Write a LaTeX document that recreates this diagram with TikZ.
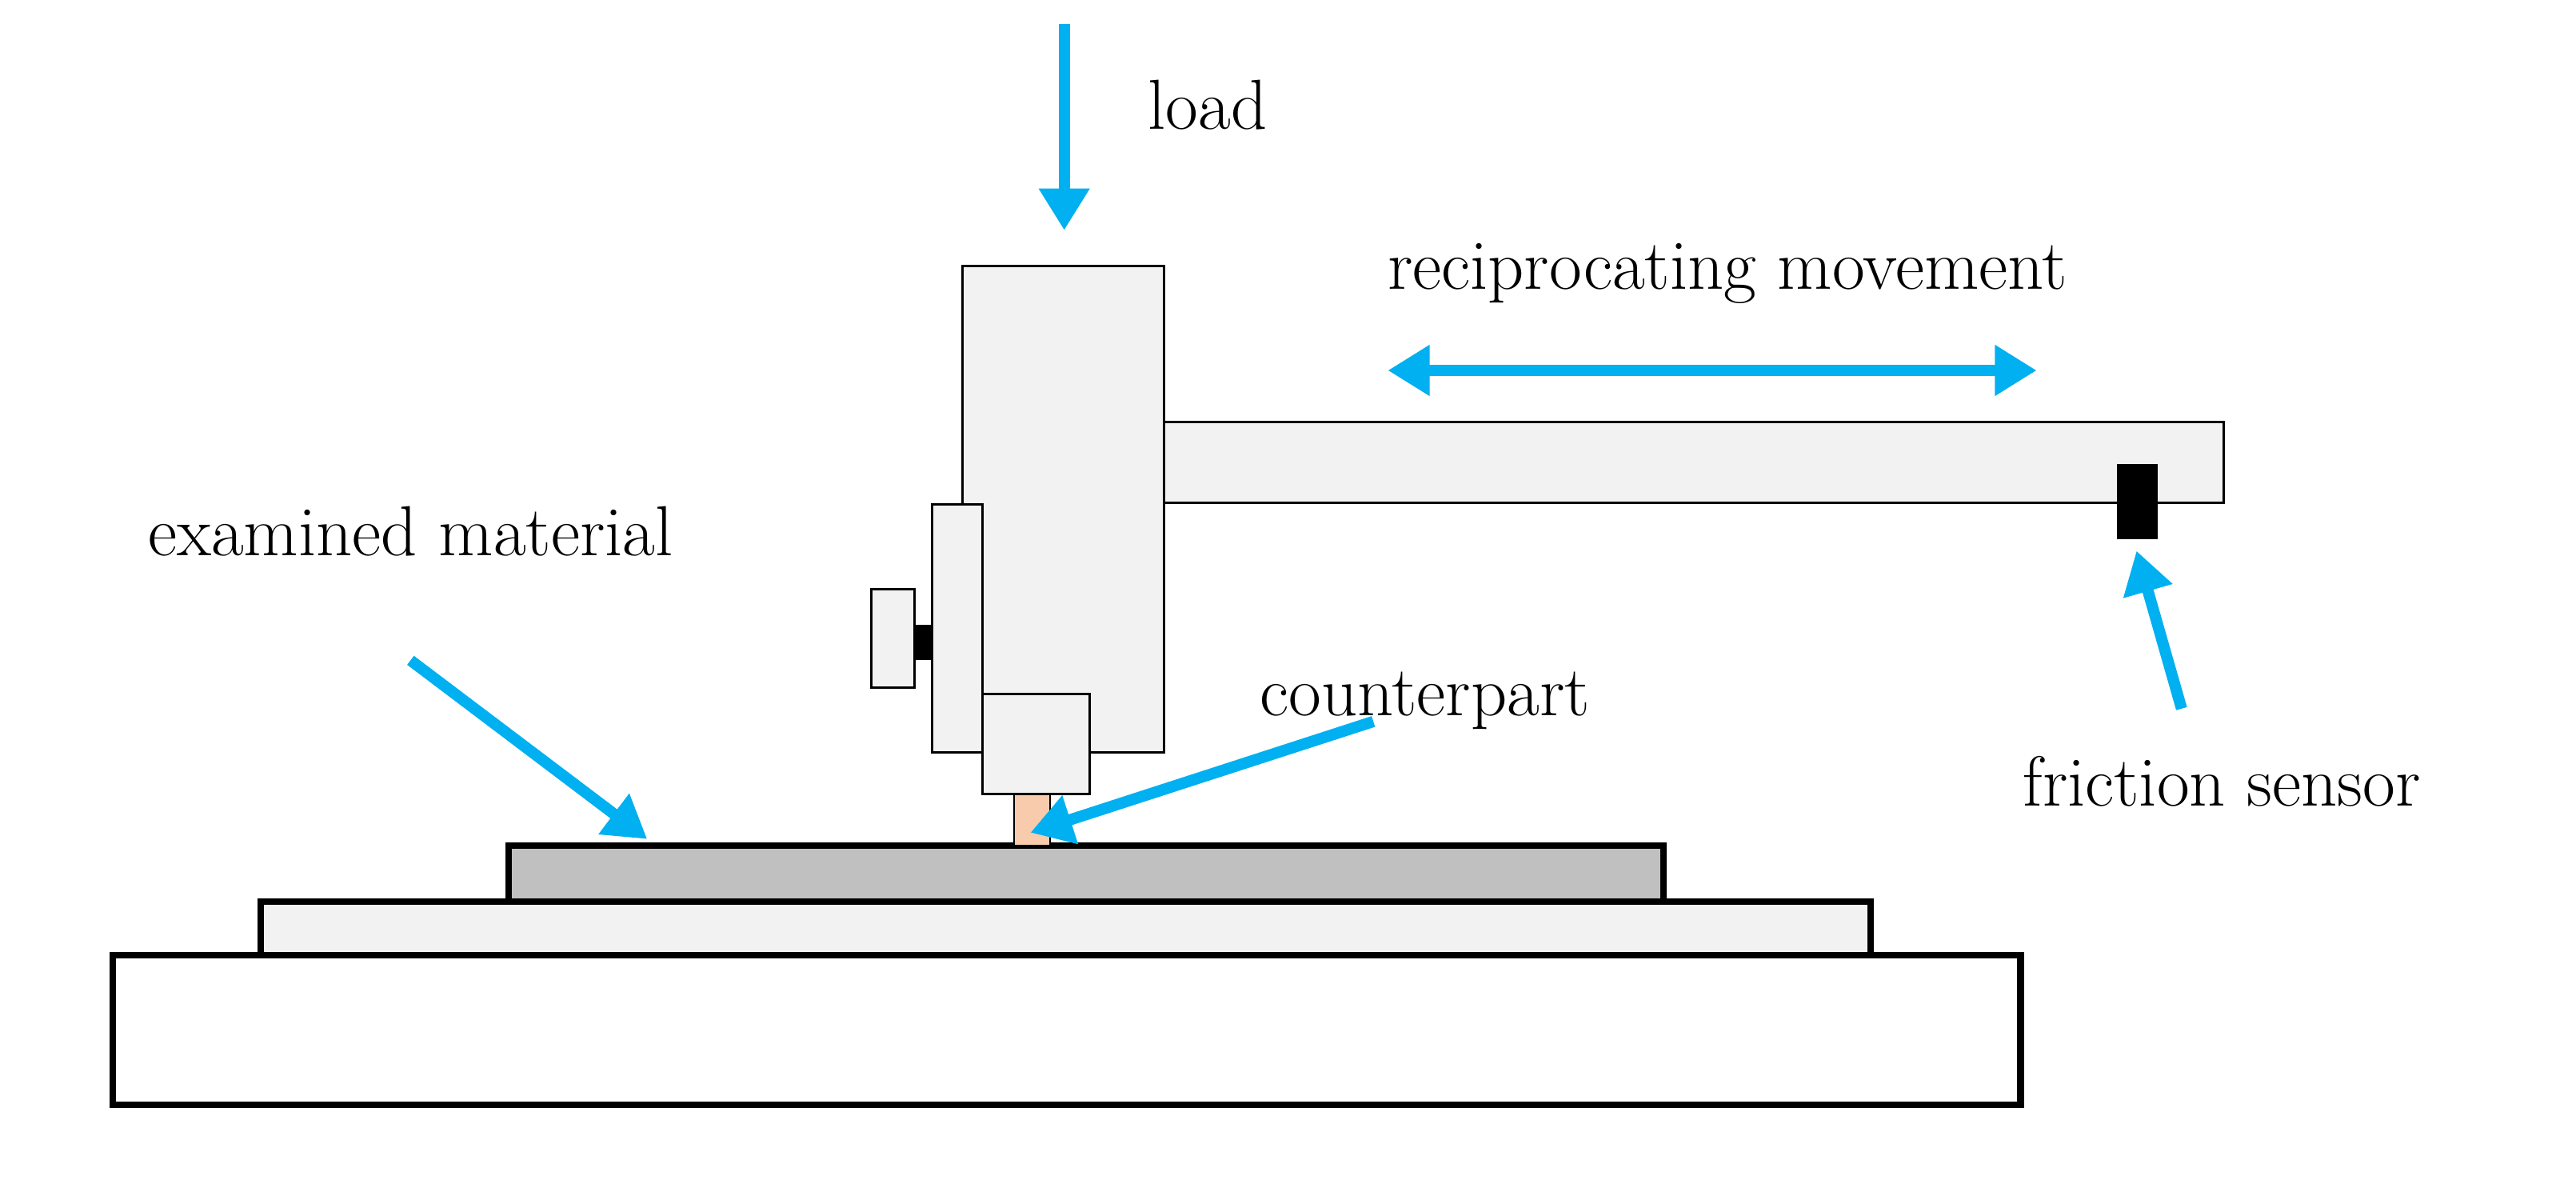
\documentclass[tikz,border=0pt]{standalone}
\usetikzlibrary{arrows.meta}
\definecolor{cy}{HTML}{00B0F0}
\definecolor{lg}{HTML}{F2F2F2}
\definecolor{mg}{HTML}{C0C0C0}
\definecolor{pe}{HTML}{F8CBAD}
\begin{document}
\begin{tikzpicture}[x=1pt,y=-1pt,
 thickbox/.style={draw=black,line width=4pt},
 thinbox/.style={draw=black,line width=1.5pt,fill=lg},
 arr/.style={draw=cy,line width=7pt,-{Triangle[length=26pt,width=30pt]}},
 darr/.style={draw=cy,line width=7pt,{Triangle[length=26pt,width=30pt]}-{Triangle[length=26pt,width=30pt]}},
 lab/.style={font=\fontsize{44}{52}\selectfont,inner sep=0pt}]
\useasboundingbox (0,0) rectangle (1600,735);
\draw[thickbox,fill=white] (70,593) rectangle (1255,686);
\draw[thickbox,fill=lg] (162,560) rectangle (1162,593);
\draw[thickbox,fill=mg] (316,525) rectangle (1033,560);
\draw[draw=black,line width=1pt,fill=pe] (630,493) rectangle (652,525);
\draw[thinbox] (598,165) rectangle (723,467);
\draw[thinbox] (723,262) rectangle (1381,312);
\fill[black] (1315,288) rectangle (1340,335);
\draw[thinbox] (579,313) rectangle (610,467);
\draw[thinbox] (541,366) rectangle (568,427);
\fill[black] (568,388) rectangle (579,410);
\draw[thinbox] (610,431) rectangle (677,493);
\coordinate (l1) at (661,15); \coordinate (l2) at (661,143);
\draw[arr] (l1) -- (l2);
\node[lab,anchor=west] (load) at (713,65) {load};
\node[lab] (rec) at (1073,170) {reciprocating movement};
\coordinate (r1) at (862,230); \coordinate (r2) at (1265,230);
\draw[darr] (r1) -- (r2);
\node[lab] (em) at (255,330) {examined material};
\coordinate (e1) at (255,410); \coordinate (e2) at (402,521);
\draw[arr] (e1) -- (e2);
\node[lab] (cp) at (885,435) {counterpart};
\coordinate (c1) at (853,448); \coordinate (c2) at (640,517);
\draw[arr] (c1) -- (c2);
\node[lab] (fs) at (1380,485) {friction sensor};
\coordinate (f1) at (1355,440); \coordinate (f2) at (1327,342);
\draw[arr] (f1) -- (f2);
\end{tikzpicture}
\end{document}
